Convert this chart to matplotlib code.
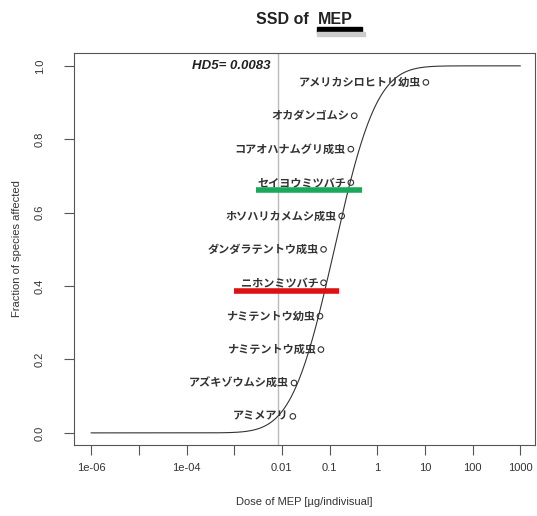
#! python
import math
import numpy as np
import matplotlib
matplotlib.use('Agg')
import matplotlib.pyplot as plt
from matplotlib.patches import Rectangle


# ------- data

species = ['アミメアリ', 'アズキゾウムシ成虫', 'ナミテントウ成虫', 'ナミテントウ幼虫',
           'ニホンミツバチ', 'ダンダラテントウ成虫', 'ホソハリカメムシ成虫',
           'セイヨウミツバチ', 'コアオハナムグリ成虫', 'オカダンゴムシ',
           'アメリカシロヒトリ幼虫']
doses = [0.017, 0.018, 0.066, 0.063, 0.075, 0.075, 0.18, 0.28, 0.28, 0.33, 10.5]
fractions = [0.045, 0.136, 0.227, 0.318, 0.409, 0.5, 0.591, 0.682, 0.773, 0.864, 0.955]

# fitted log-normal SSD (log10 scale)
fit_mu = -0.9
fit_sigma = 0.7
hd5 = 0.0083

# coloured marks added on top of the chart
green_bar = [10 ** -2.55, 10 ** -0.32, 0.662]
red_bar = [10 ** -3.0, 10 ** -0.80, 0.387]

xticks = [1e-6, 1e-5, 1e-4, 1e-3, 1e-2, 1e-1, 1, 10, 100, 1000]
xticklabels = ['1e-06', '', '1e-04', '', '0.01', '0.1', '1', '10', '100', '1000']
yticks = [0.0, 0.2, 0.4, 0.6, 0.8, 1.0]


def ssd_curve(mu, sigma):
    x = np.logspace(-6, 3, 400)
    y = [0.5 * (1 + math.erf((math.log10(v) - mu) / (sigma * math.sqrt(2)))) for v in x]
    return x, y


def main():
    fig = plt.figure(figsize=(5.37, 5.16), dpi=100)
    ax = fig.add_axes([74 / 537, 71 / 516, 461 / 537, 392 / 516])

    x, y = ssd_curve(fit_mu, fit_sigma)
    ax.plot(x, y, color='#333333', lw=0.8)

    ax.axvline(hd5, color='#bbbbbb', lw=1.0, zorder=0)

    ax.scatter(doses, fractions, s=16, facecolors='none', edgecolors='#333333',
               linewidths=0.8, zorder=3)
    for name, d, f in zip(species, doses, fractions):
        ax.annotate(name, (d, f), xytext=(-3.5, 0), textcoords='offset points',
                    ha='right', va='center', fontsize=8, fontweight='bold',
                    family=['Noto Sans CJK JP', 'DejaVu Sans'], color='#333333')

    ax.plot(green_bar[:2], [green_bar[2]] * 2, color='#1aa85a', lw=4, solid_capstyle='butt', zorder=4)
    ax.plot(red_bar[:2], [red_bar[2]] * 2, color='#dd1111', lw=4, solid_capstyle='butt', zorder=4)

    ax.text(hd5, 1.0, 'HD5= 0.0083  ', ha='right', va='center', fontsize=9.5,
            fontweight='bold', fontstyle='italic', family='Liberation Sans', color='#222222')

    ax.set_xscale('log')
    ax.set_xlim(10 ** -6.36, 10 ** 3.31)
    ax.set_ylim(-0.033, 1.035)
    ax.set_xticks(xticks)
    ax.set_xticklabels(xticklabels, family='Liberation Sans', fontsize=8, color='#333333')
    ax.minorticks_off()
    ax.set_yticks(yticks)
    ax.set_yticklabels(['%.1f' % v for v in yticks], rotation=90, va='center',
                       family='Liberation Sans', fontsize=8, color='#333333')
    ax.tick_params(direction='out', length=7, width=0.8, color='#555555')
    ax.tick_params(axis='x', pad=6)
    ax.tick_params(axis='y', pad=14)
    for s in ax.spines.values():
        s.set_color('#555555')
        s.set_linewidth(0.8)

    ax.set_xlabel('Dose of MEP [µg/indivisual]', family='Liberation Sans', fontsize=8,
                  color='#333333', labelpad=17)
    ax.set_ylabel('Fraction of species affected', family='Liberation Sans', fontsize=8,
                  color='#333333', labelpad=9)

    # title with the underlined MEP
    fig.text(256 / 537, 1 - 19 / 516, 'SSD of ', ha='left', va='center', fontsize=11.5,
             fontweight='bold', family='Liberation Sans', color='#222222')
    fig.text(318 / 537, 1 - 19 / 516, 'MEP', ha='left', va='center', fontsize=11.5,
             fontweight='bold', family='Liberation Sans', color='#222222')
    fig.patches.append(Rectangle((317 / 537, 1 - 32 / 516), 45 / 537, 5 / 516,
                                 transform=fig.transFigure, color='black'))
    fig.patches.append(Rectangle((317 / 537, 1 - 36 / 516), 48 / 537, 4 / 516,
                                 transform=fig.transFigure, color='#cccccc'))

    plt.savefig('out.png', dpi=100)


if __name__ == "__main__":
    main()
